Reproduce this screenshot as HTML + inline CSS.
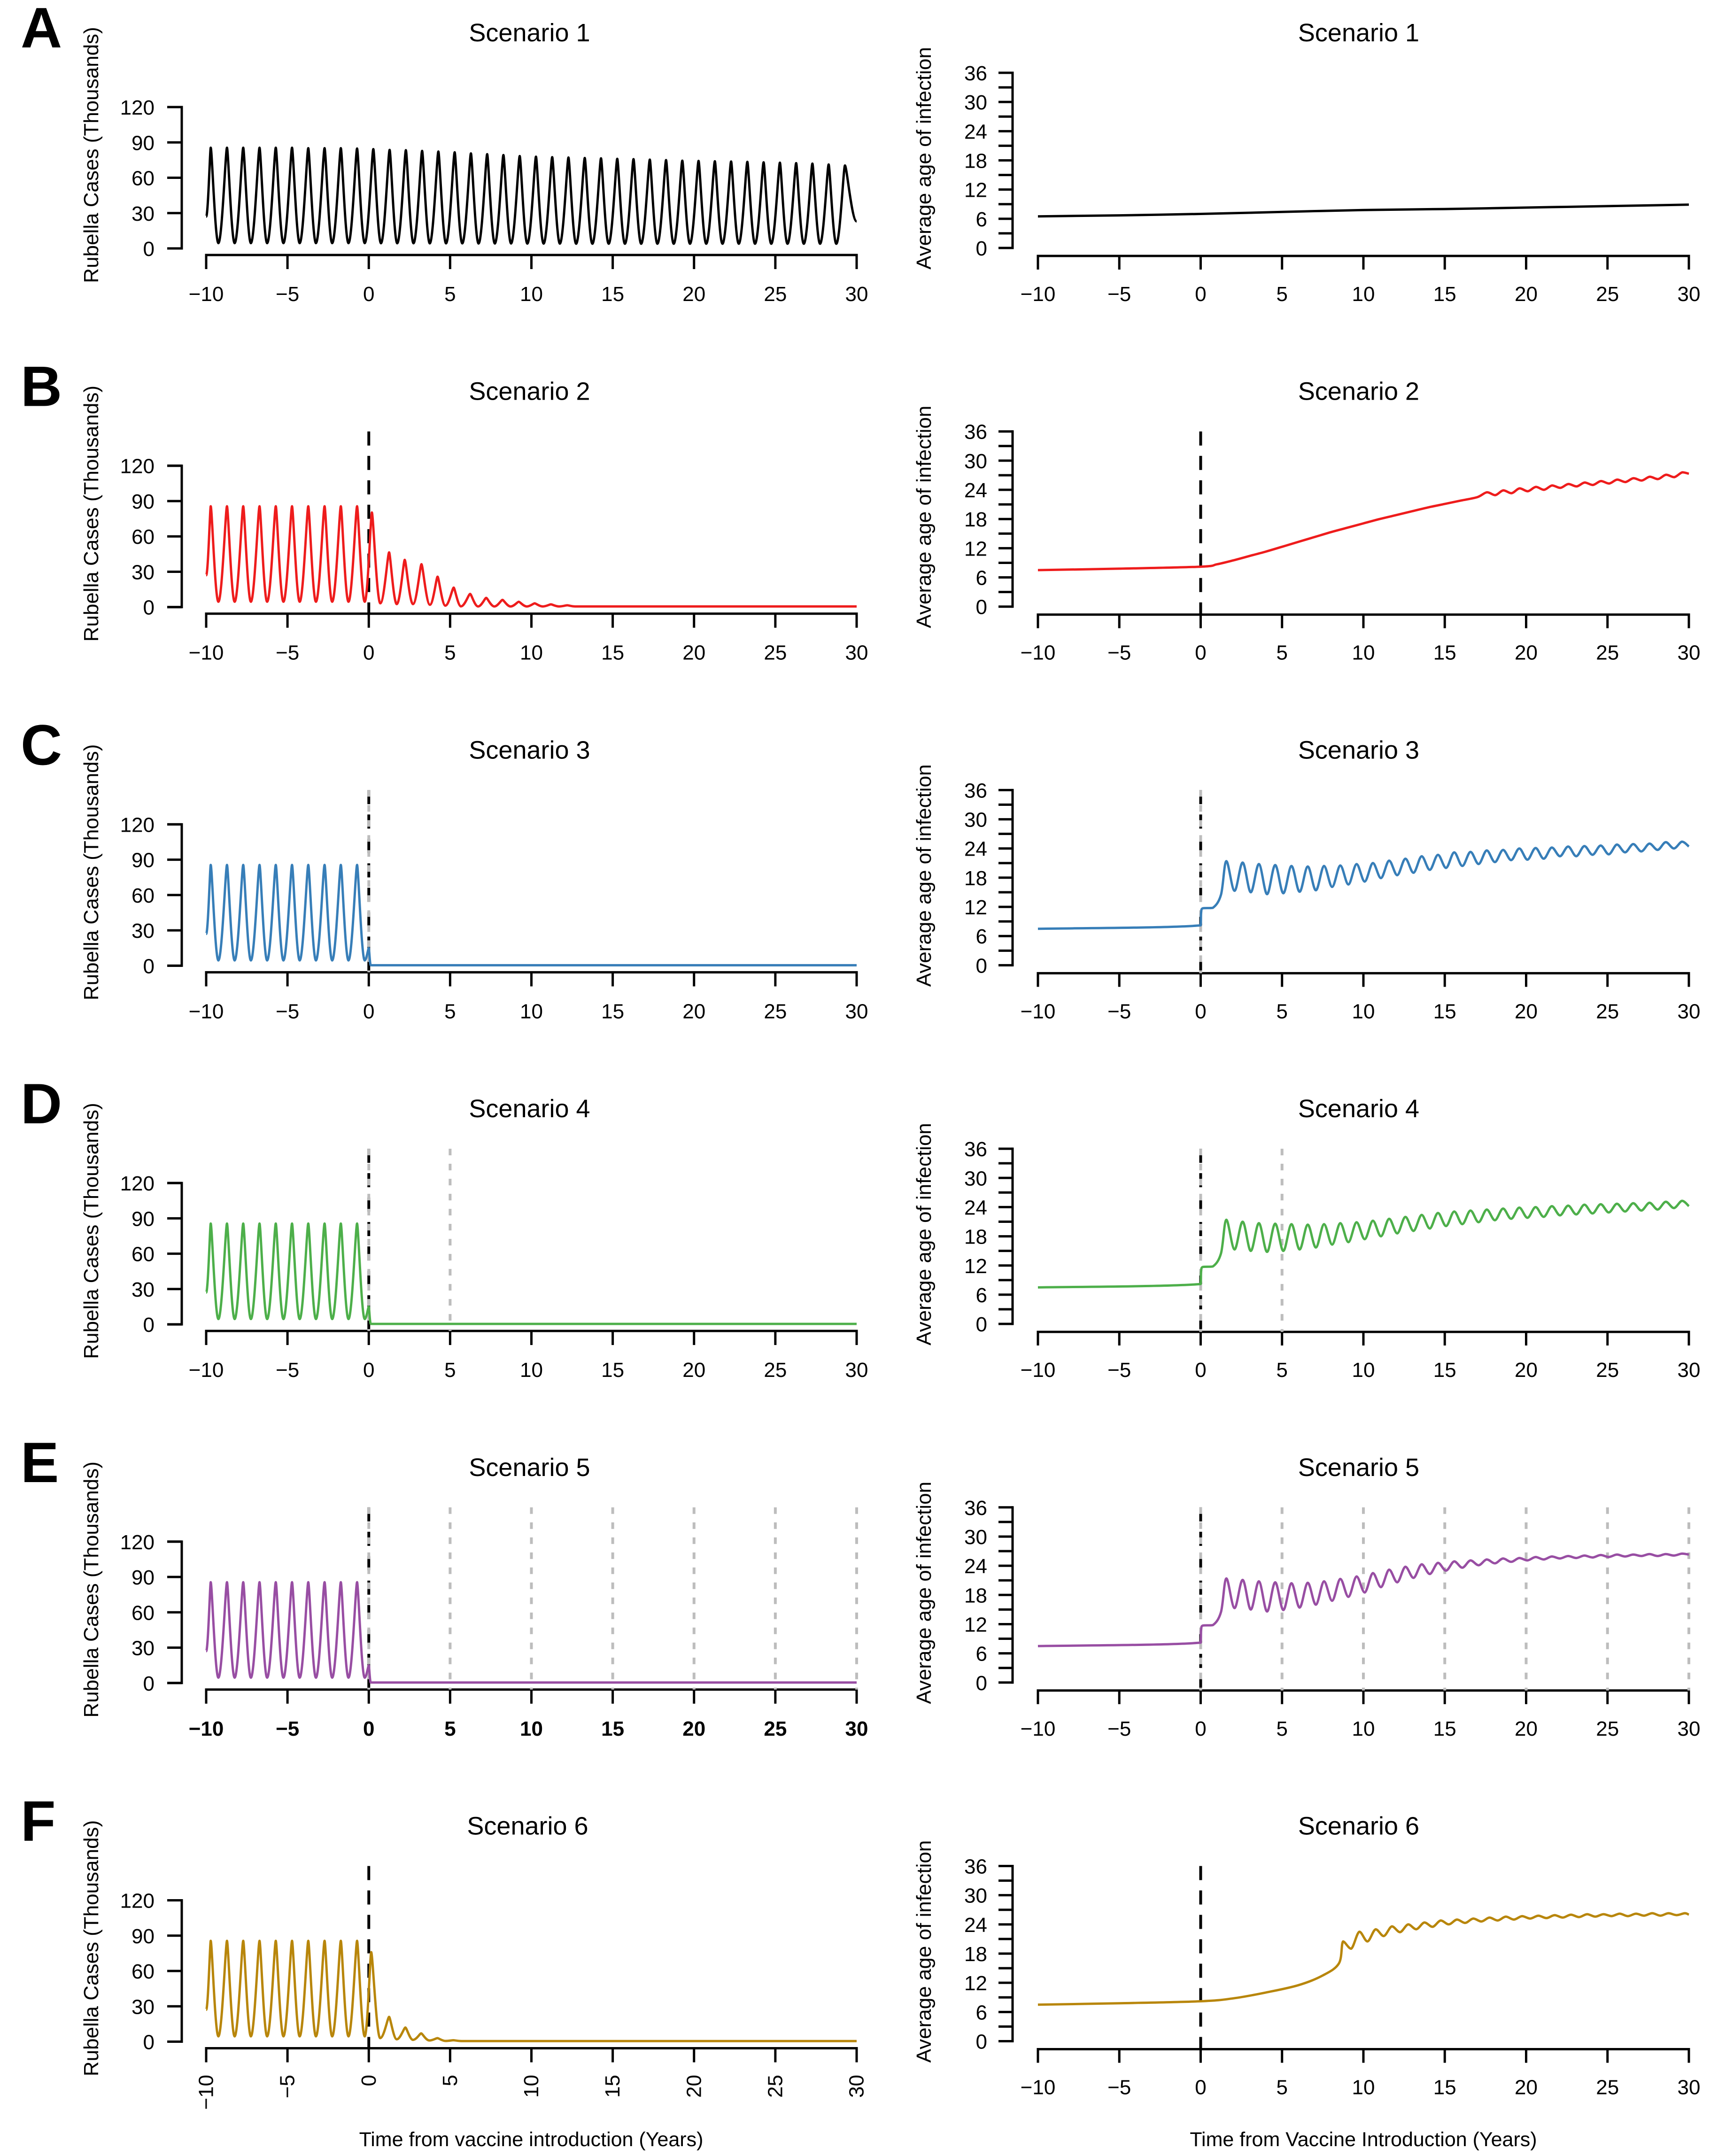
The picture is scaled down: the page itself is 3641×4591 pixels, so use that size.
<!DOCTYPE html>
<html><head><meta charset="utf-8"><style>
html,body{margin:0;padding:0;background:#fff}
svg{display:block}
text{font-family:"Liberation Sans",Arial,sans-serif;fill:#000}
</style></head><body>
<svg id="fig" xmlns="http://www.w3.org/2000/svg" width="3641" height="4591" viewBox="0 0 3641 4591"></svg>
<script>
// ---------- data ----------
const xTicks = [-10,-5,0,5,10,15,20,25,30];
const caseTicks = [0,30,60,90,120];
const ageTicks = [0,3,6,9,12,15,18,21,24,27,30,33,36];
const ageLabels = [0,6,12,18,24,30,36];
const panelLetters = ["A","B","C","D","E","F"];
const scenarioTitles = ["Scenario 1","Scenario 2","Scenario 3","Scenario 4","Scenario 5","Scenario 6"];
const colors = ["#000000","#ee1c1c","#377eb8","#4daf4a","#984ea3","#b8860b"];
const greyLines = [[],[],[0],[0,5],[0,5,10,15,20,25,30],[]];
const vaxLine = [false,true,true,true,true,true];

// Scenario 1 (no vaccination) case peaks per annual cycle
const casesStart = 27;
const peakStart = -9.72, troughStart = -9.25, cyclePeriod = 1.0;
const A_peaks = [85.5,85.5,85.5,85.5,85.5,85.5,85.1,85.1,85.1,84.8,84.3,83.7,83.4,82.8,82.3,81.6,80.7,80.0,79.3,78.4,77.9,77.5,77.2,76.8,76.5,76.1,75.8,75.4,75.0,74.5,74.3,74.0,73.8,73.5,73.1,72.8,72.4,72.0,71.3,70.4];
const A_troughs = [4.5,4.5,4.5,4.5,4.5,4.5,4.5,4.5,4.5,4.5,4.4,4.4,4.4,4.3,4.3,4.3,4.2,4.2,4.2,4.1,4.1,4.1,4.0,4.0,4.0,4.0,4.0,4.0,4.0,4.0,4.0,4.0,4.0,4.0,4.0,4.0,4.0,4.0,4.0];
const A_end = 23;
// pre-vaccine cycles for scenarios 2-6
const pre_peaks = [85.6,85.6,85.6,85.6,85.6,85.6,85.6,85.6,85.6,85.6];
const pre_troughs = [4.5,4.5,4.5,4.5,4.5,4.5,4.5,4.5,4.5,4.5];
// post-vaccine cases
const B_post_t = [0.19,0.71,1.25,1.72,2.21,2.72,3.24,3.76,4.23,4.71,5.22,5.67,6.23,6.72,7.22,7.72,8.22,8.72,9.22,9.72,10.2,10.7,11.2,11.7,12.2,12.7,30];
const B_post_v = [80.3,3.2,46.4,2.5,40.1,2.5,36.4,1.9,25.8,1.2,16.5,0.6,11.2,0.5,7.8,0.5,6.1,0.5,4.5,0.5,3.2,0.5,2.3,0.5,1.5,0.5,0.5];
const CDE_post_t = [0,0.12,30];
const CDE_post_v = [15,0.4,0.4];
const F_post_t = [0.15,0.7,1.25,1.72,2.25,2.72,3.22,3.72,4.22,4.72,5.2,5.7,30];
const F_post_v = [76,3,21,2,12,1.5,7,1,3,0.6,1.2,0.5,0.5];

// Average age of infection
const A_age_t = [-10,-5,0,5,10,15,20,25,30];
const A_age_v = [6.5,6.7,7.0,7.4,7.8,8.0,8.3,8.6,8.9];
const B_age_t = [-10,-5,0,1,2,3,4,5,6,7,8,9,10,11,12,13,14,15,16,17,17.6,18.1,18.6,19.1,19.6,20.1,20.6,21.1,21.6,22.1,22.6,23.1,23.6,24.1,24.6,25.1,25.6,26.1,26.6,27.1,27.6,28.1,28.6,29.1,29.6,30];
const B_age_v = [7.5,7.8,8.2,8.7,9.5,10.4,11.3,12.3,13.3,14.3,15.3,16.2,17.1,18.0,18.8,19.6,20.4,21.1,21.8,22.5,23.5,22.9,23.9,23.3,24.3,23.7,24.6,24.0,24.9,24.4,25.2,24.7,25.5,25.0,25.8,25.3,26.1,25.6,26.4,25.9,26.7,26.2,27.1,26.6,27.6,27.3];
const jump_t = [-10,0,0.03,0.12,0.75,1.25];
const jump_v = [7.5,8.2,10.8,11.7,11.8,14.5];
const osc_start = 1.58;
const C_age_peaks = [21.4,21.1,20.8,20.6,20.4,20.3,20.4,20.5,20.8,21.0,21.5,21.9,22.4,22.7,23.2,23.3,23.6,23.7,24.0,24.1,24.2,24.4,24.5,24.6,24.8,24.9,25.0,25.3,25.4];
const C_age_troughs = [15.3,15.0,14.6,14.8,15.1,15.4,16.1,16.6,17.2,17.9,18.5,19.0,19.6,20.0,20.4,20.8,21.2,21.6,21.7,21.9,22.4,22.4,22.7,22.8,23.2,23.4,23.7,24.0];
const C_age_end = 24.4;
const D_age_peaks = [21.4,21.0,20.7,20.6,20.5,20.4,20.5,20.7,20.9,21.2,21.6,22.0,22.4,22.8,23.1,23.3,23.5,23.7,23.9,24.0,24.2,24.3,24.5,24.6,24.7,24.8,24.9,25.1,25.3];
const D_age_troughs = [15.3,15.0,14.8,15.0,15.3,15.7,16.3,16.8,17.4,18.0,18.6,19.1,19.6,20.1,20.5,20.9,21.3,21.6,21.8,22.0,22.3,22.5,22.7,22.9,23.1,23.3,23.5,23.8];
const D_age_end = 24.2;
const E_age_peaks = [21.4,21.1,20.8,20.6,20.4,20.5,20.8,21.3,21.8,22.5,23.2,23.8,24.3,24.6,24.9,25.1,25.3,25.5,25.6,25.8,25.9,26.0,26.1,26.2,26.3,26.3,26.4,26.4,26.5];
const E_age_troughs = [15.3,15.0,14.6,14.9,15.4,16.0,16.8,17.6,18.5,19.6,20.6,21.5,22.3,23.0,23.6,24.1,24.5,24.8,25.1,25.3,25.5,25.6,25.7,25.8,25.9,26.0,26.0,26.1];
const E_age_end = 26.3;
const F_age_pre_t = [-10,-5,0,2,4,6,7.5,8.5];
const F_age_pre_v = [7.5,7.8,8.2,8.8,10.0,11.5,13.5,16.0];
const F_osc_start = 8.75;
const F_age_peaks = [20.5,22.5,23.0,23.6,24.0,24.4,24.8,25.0,25.2,25.4,25.6,25.7,25.8,25.9,26.0,26.1,26.1,26.2,26.2,26.3,26.3,26.3];
const F_age_troughs = [19.0,20.5,21.6,22.4,23.0,23.5,24.0,24.3,24.6,24.8,25.0,25.2,25.3,25.4,25.5,25.6,25.7,25.7,25.8,25.8,25.9];
const F_age_end = 26.0;

// ---------- layout ----------
const NS = "http://www.w3.org/2000/svg";
const svg = document.getElementById("fig");
const ROW = 763.7;
const L = {x0:439, x1:1824, y0:529, yTop:228, axisY:543, yAxisX:387};
const R = {x0:2210, x1:3596, y0:528, yTop:155, axisY:545, yAxisX:2156};
function lx(t){return L.x0 + (t+10)*(L.x1-L.x0)/40;}
function ly(v,r){return L.y0 - v*(L.y0-L.yTop)/120 + r*ROW;}
function rx(t){return R.x0 + (t+10)*(R.x1-R.x0)/40;}
function ry(v,r){return R.y0 - v*(R.y0-R.yTop)/36 + r*ROW;}

function mk(tag, attrs, parent){
  const e = document.createElementNS(NS, tag);
  for (const k in attrs) e.setAttribute(k, attrs[k]);
  (parent||svg).appendChild(e);
  return e;
}
function txt(s, attrs, parent){ const e = mk("text", attrs, parent); e.textContent = s; return e; }

function cycles(peaks, troughs, n){
  const t=[], v=[];
  for (let k=0;k<n;k++){
    if (k<peaks.length){ t.push(peakStart+k*cyclePeriod); v.push(peaks[k]); }
    if (k<troughs.length){ t.push(troughStart+k*cyclePeriod); v.push(troughs[k]); }
  }
  return [t,v];
}
function ageCycles(start, peaks, troughs){
  const t=[], v=[];
  for (let k=0;k<peaks.length;k++){
    t.push(start+k); v.push(peaks[k]);
    if (k<troughs.length){ t.push(start+k+0.5); v.push(troughs[k]); }
  }
  return [t,v];
}
// rounded-peak path for case oscillations
function oscPath(P){
  let d = "M"+P[0][0].toFixed(1)+","+P[0][1].toFixed(1);
  for (let i=1;i<P.length;i++){
    const [x0,y0]=P[i-1],[x1,y1]=P[i]; const dx=x1-x0;
    let c1,c2;
    if (y1<y0){ // going up
      c1=[x0+0.42*dx,y0]; c2=[x1-0.16*dx,y1];
    } else if (y1>y0){
      c1=[x0+0.16*dx,y0]; c2=[x1-0.42*dx,y1];
    } else { c1=[x0+dx/3,y0]; c2=[x1-dx/3,y1]; }
    d+=" C"+c1[0].toFixed(1)+","+c1[1].toFixed(1)+" "+c2[0].toFixed(1)+","+c2[1].toFixed(1)+" "+x1.toFixed(1)+","+y1.toFixed(1);
  }
  return d;
}
// clamped catmull-rom
function smoothPath(P){
  let d = "M"+P[0][0].toFixed(1)+","+P[0][1].toFixed(1);
  const clamp=(v,a,b)=>Math.max(Math.min(a,b),Math.min(Math.max(a,b),v));
  for (let i=0;i<P.length-1;i++){
    const p0=P[Math.max(0,i-1)],p1=P[i],p2=P[i+1],p3=P[Math.min(P.length-1,i+2)];
    let c1=[p1[0]+(p2[0]-p0[0])/6, p1[1]+(p2[1]-p0[1])/6];
    let c2=[p2[0]-(p3[0]-p1[0])/6, p2[1]-(p3[1]-p1[1])/6];
    c1[1]=clamp(c1[1],p1[1],p2[1]); c2[1]=clamp(c2[1],p1[1],p2[1]);
    c1[0]=clamp(c1[0],p1[0],p2[0]); c2[0]=clamp(c2[0],p1[0],p2[0]);
    d+=" C"+c1[0].toFixed(1)+","+c1[1].toFixed(1)+" "+c2[0].toFixed(1)+","+c2[1].toFixed(1)+" "+p2[0].toFixed(1)+","+p2[1].toFixed(1);
  }
  return d;
}

function caseSeries(i){
  let t=[-10], v=[casesStart];
  if (i===0){
    const [ct,cv]=cycles(A_peaks,A_troughs,A_peaks.length);
    t=t.concat(ct,[30]); v=v.concat(cv,[A_end]);
  } else {
    const [ct,cv]=cycles(pre_peaks,pre_troughs,pre_peaks.length);
    t=t.concat(ct); v=v.concat(cv);
    const pt = i===1?B_post_t : i===5?F_post_t : CDE_post_t;
    const pv = i===1?B_post_v : i===5?F_post_v : CDE_post_v;
    t=t.concat(pt); v=v.concat(pv);
  }
  return [t,v];
}
function ageSeries(i){
  if (i===0) return [A_age_t, A_age_v];
  if (i===1) return [B_age_t, B_age_v];
  if (i===5){
    const [ot,ov]=ageCycles(F_osc_start,F_age_peaks,F_age_troughs);
    return [F_age_pre_t.concat(ot,[30]), F_age_pre_v.concat(ov,[F_age_end])];
  }
  const pk = i===2?C_age_peaks : i===3?D_age_peaks : E_age_peaks;
  const tr = i===2?C_age_troughs : i===3?D_age_troughs : E_age_troughs;
  const en = i===2?C_age_end : i===3?D_age_end : E_age_end;
  const [ot,ov]=ageCycles(osc_start,pk,tr);
  return [jump_t.concat(ot,[30]), jump_v.concat(ov,[en])];
}

// ---------- draw ----------
for (let r=0;r<6;r++){
  const off = r*ROW;
  const g = mk("g",{});
  
  

  const letter = txt(panelLetters[r],{x:44,y:101+off,"font-size":122,"font-weight":"bold"},g);
  
  

  // ===== left panel =====
  const lg = mk("g",{},g);
  
  
  const t1 = txt(scenarioTitles[r],{x:(L.x0+L.x1)/2-(r===5?8:4),y:88+off,"font-size":54,"text-anchor":"middle"},lg);
  
  
  const yt = txt("Rubella Cases (Thousands)",{x:0,y:0,"font-size":44,"text-anchor":"middle",transform:"translate(209,"+(330+off)+") rotate(-90)"},lg);
  
  
  const ya = mk("path",{d:"M"+(L.yAxisX-31)+","+ly(120,r)+" H"+L.yAxisX+" V"+ly(0,r)+" H"+(L.yAxisX-31),fill:"none",stroke:"#000","stroke-width":5},lg);
  
  
  caseTicks.forEach(v=>{
    const tk = mk("line",{x1:L.yAxisX-31,x2:L.yAxisX,y1:ly(v,r),y2:ly(v,r),stroke:"#000","stroke-width":5},lg);
    
    
    const tl = txt(String(v),{x:329,y:ly(v,r)+16,"font-size":44,"text-anchor":"end"},lg);
    
    
  });
  const xa = mk("line",{x1:L.x0,x2:L.x1,y1:L.axisY+off,y2:L.axisY+off,stroke:"#000","stroke-width":5,"stroke-linecap":"square"},lg);
  
  
  xTicks.forEach(t=>{
    const tk = mk("line",{x1:lx(t),x2:lx(t),y1:L.axisY+off,y2:L.axisY+30+off,stroke:"#000","stroke-width":5},lg);
    
    
    let tl;
    const lab = t<0 ? "\u2212"+Math.abs(t) : String(t);
    if (r===5){
      tl = txt(lab,{x:0,y:0,"font-size":44,"text-anchor":"end","dominant-baseline":"central",transform:"translate("+lx(t)+","+(4418)+") rotate(-90)"},lg);
    } else {
      tl = txt(lab,{x:lx(t),y:641+off,"font-size":44,"text-anchor":"middle","font-weight":r===4?"bold":"normal"},lg);
    }
    
    
  });
  if (vaxLine[r]){
    const vl = mk("line",{x1:lx(0),x2:lx(0),y1:155+off,y2:L.axisY+off,stroke:"#000","stroke-width":6,"stroke-dasharray":"30,22"},lg);
    
    
  }
  greyLines[r].forEach(t=>{
    const gl = mk("line",{x1:lx(t),x2:lx(t),y1:155+off,y2:L.axisY+off,stroke:"#bdbdbd","stroke-width":6,"stroke-dasharray":"14,18"},lg);
    
    
  });
  const [ct,cv] = caseSeries(r);
  const cp = ct.map((t,k)=>[lx(t), ly(cv[k],r)]);
  const cl = mk("path",{d:oscPath(cp),fill:"none",stroke:colors[r],"stroke-width":5,"stroke-linejoin":"round"},lg);
  
  

  // ===== right panel =====
  const rg = mk("g",{},g);
  
  
  const t2 = txt(scenarioTitles[r],{x:(R.x0+R.x1)/2-10,y:88+off,"font-size":54,"text-anchor":"middle"},rg);
  
  
  const yt2 = txt("Average age of infection",{x:0,y:0,"font-size":44,"text-anchor":"middle",transform:"translate(1982,"+(337+off)+") rotate(-90)"},rg);
  
  
  const ya2 = mk("line",{x1:R.yAxisX,x2:R.yAxisX,y1:ry(36,r),y2:ry(0,r),stroke:"#000","stroke-width":5,"stroke-linecap":"square"},rg);
  
  
  ageTicks.forEach(v=>{
    const tk = mk("line",{x1:R.yAxisX-30,x2:R.yAxisX,y1:ry(v,r),y2:ry(v,r),stroke:"#000","stroke-width":5},rg);
    
    
  });
  ageLabels.forEach(v=>{
    const tl = txt(String(v),{x:2102,y:ry(v,r)+16,"font-size":44,"text-anchor":"end"},rg);
    
    
  });
  const xa2 = mk("line",{x1:R.x0,x2:R.x1,y1:R.axisY+off,y2:R.axisY+off,stroke:"#000","stroke-width":5,"stroke-linecap":"square"},rg);
  
  
  xTicks.forEach(t=>{
    const tk = mk("line",{x1:rx(t),x2:rx(t),y1:R.axisY+off,y2:R.axisY+29+off,stroke:"#000","stroke-width":5},rg);
    
    
    const lab = t<0 ? "\u2212"+Math.abs(t) : String(t);
    const tl = txt(lab,{x:rx(t),y:641+off,"font-size":44,"text-anchor":"middle"},rg);
    
    
  });
  if (vaxLine[r]){
    const vl = mk("line",{x1:rx(0),x2:rx(0),y1:155+off,y2:R.axisY+off,stroke:"#000","stroke-width":6,"stroke-dasharray":"30,22"},rg);
    
    
  }
  greyLines[r].forEach(t=>{
    const gl = mk("line",{x1:rx(t),x2:rx(t),y1:155+off,y2:R.axisY+off,stroke:"#bdbdbd","stroke-width":6,"stroke-dasharray":"14,18"},rg);
    
    
  });
  const [at,av] = ageSeries(r);
  const ap = at.map((t,k)=>[rx(t), ry(av[k],r)]);
  const al = mk("path",{d:smoothPath(ap),fill:"none",stroke:colors[r],"stroke-width":5,"stroke-linejoin":"round"},rg);
  
  
}
const xt1 = txt("Time from vaccine introduction (Years)",{x:1131,y:4570,"font-size":43,"text-anchor":"middle"});


const xt2 = txt("Time from Vaccine Introduction (Years)",{x:2903,y:4570,"font-size":43,"text-anchor":"middle"});


</script>
</body></html>
